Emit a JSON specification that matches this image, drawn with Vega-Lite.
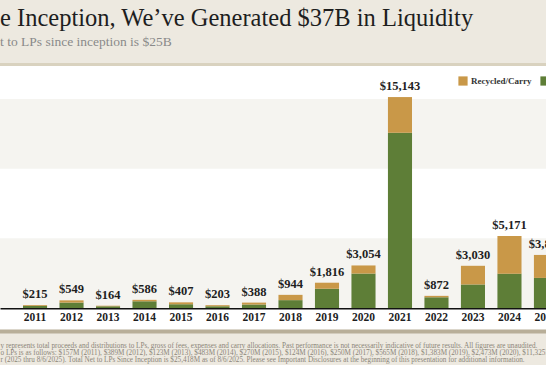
{
  "$schema": "https://vega.github.io/schema/vega-lite/v6.json",
  "width": 546,
  "height": 264,
  "autosize": {"type": "none"},
  "padding": {"top": 66, "left": 0, "right": 0, "bottom": 35},
  "background": "#ede9e0",
  "config": {"view": {"stroke": null, "fill": "white"}, "font": "Liberation Serif"},
  "title": {
    "text": "e Inception, We’ve Generated $37B in Liquidity",
    "subtitle": "t to LPs since inception is $25B",
    "anchor": "start",
    "frame": "group",
    "font": "Liberation Serif",
    "fontSize": 24.5,
    "fontWeight": "normal",
    "color": "#1e1e1e",
    "subtitleFont": "Liberation Serif",
    "subtitleFontSize": 13.5,
    "subtitleColor": "#8a8a8a",
    "subtitlePadding": 4,
    "offset": 13
  },
  "datasets": {
    "bands": [{"from": 0, "to": 5000}, {"from": 10000, "to": 15000}],
    "bars": [
      {"year": "2011", "type": "Net to LPs", "value": 157}, {"year": "2011", "type": "Recycled/Carry", "value": 58},
      {"year": "2012", "type": "Net to LPs", "value": 389}, {"year": "2012", "type": "Recycled/Carry", "value": 160},
      {"year": "2013", "type": "Net to LPs", "value": 123}, {"year": "2013", "type": "Recycled/Carry", "value": 41},
      {"year": "2014", "type": "Net to LPs", "value": 483}, {"year": "2014", "type": "Recycled/Carry", "value": 103},
      {"year": "2015", "type": "Net to LPs", "value": 270}, {"year": "2015", "type": "Recycled/Carry", "value": 137},
      {"year": "2016", "type": "Net to LPs", "value": 124}, {"year": "2016", "type": "Recycled/Carry", "value": 79},
      {"year": "2017", "type": "Net to LPs", "value": 250}, {"year": "2017", "type": "Recycled/Carry", "value": 138},
      {"year": "2018", "type": "Net to LPs", "value": 565}, {"year": "2018", "type": "Recycled/Carry", "value": 379},
      {"year": "2019", "type": "Net to LPs", "value": 1383}, {"year": "2019", "type": "Recycled/Carry", "value": 433},
      {"year": "2020", "type": "Net to LPs", "value": 2473}, {"year": "2020", "type": "Recycled/Carry", "value": 581},
      {"year": "2021", "type": "Net to LPs", "value": 12580}, {"year": "2021", "type": "Recycled/Carry", "value": 2563},
      {"year": "2022", "type": "Net to LPs", "value": 770}, {"year": "2022", "type": "Recycled/Carry", "value": 102},
      {"year": "2023", "type": "Net to LPs", "value": 1690}, {"year": "2023", "type": "Recycled/Carry", "value": 1340},
      {"year": "2024", "type": "Net to LPs", "value": 2465}, {"year": "2024", "type": "Recycled/Carry", "value": 2706},
      {"year": "2025", "type": "Net to LPs", "value": 2160}, {"year": "2025", "type": "Recycled/Carry", "value": 1650}
    ]
  },
  "layer": [
    {
      "data": {"name": "bands"},
      "mark": {"type": "rect", "color": "#f5f4f0"},
      "encoding": {
        "y": {"field": "from", "type": "quantitative", "scale": {"domain": [-1579, 17373], "nice": false, "zero": false}, "axis": null},
        "y2": {"field": "to"}
      }
    },
    {
      "data": {"name": "bars"},
      "mark": {"type": "bar"},
      "encoding": {
        "x": {
          "field": "year", "type": "ordinal",
          "scale": {"range": [0, 581], "paddingInner": 0.34, "paddingOuter": 0.63},
          "axis": {
            "title": [
              "y represents total proceeds and distributions to LPs, gross of fees, expenses and carry allocations. Past performance is not necessarily indicative of future results. All figures are unaudited.",
              "o LPs is as follows: $157M (2011), $389M (2012), $123M (2013), $483M (2014), $270M (2015), $124M (2016), $250M (2017), $565M (2018), $1,383M (2019), $2,473M (2020), $11,325M (2021), $770M (2022)",
              "r (2025 thru 8/6/2025). Total Net to LPs Since Inception is $25,418M as of 8/6/2025. Please see Important Disclosures at the beginning of this presentation for additional information."
            ],
            "titleX": 0, "titleY": 33, "titleAlign": "left", "titleAnchor": "start", "titleBaseline": "top",
            "titleFont": "Liberation Serif", "titleFontSize": 7.2, "titleFontWeight": "normal", "titleColor": "#8b8578", "titleLineHeight": 7.4,
            "labelAngle": 0, "labelFont": "Liberation Serif", "labelFontWeight": "bold", "labelFontSize": 11.5, "labelColor": "#1e1e1e", "labelPadding": 3,
            "ticks": false, "domainColor": "#111111", "domainWidth": 2, "offset": -22, "grid": false
          }
        },
        "y": {"field": "value", "type": "quantitative", "stack": "zero"},
        "color": {
          "field": "type", "type": "nominal",
          "scale": {"domain": ["Recycled/Carry", "Net to LPs"], "range": ["#c99848", "#5e7e37"]},
          "legend": {
            "orient": "none", "legendX": 458, "legendY": 10, "direction": "horizontal", "title": null,
            "symbolType": "square", "symbolSize": 85, "symbolStrokeWidth": 0, "symbolOpacity": 1,
            "labelFont": "Liberation Serif", "labelFontWeight": "bold", "labelFontSize": 9, "labelColor": "#333333",
            "columnPadding": 8, "labelOffset": 3
          }
        },
        "order": {"field": "type", "sort": "ascending"}
      }
    },
    {
      "data": {"name": "bars"},
      "transform": [{"aggregate": [{"op": "sum", "field": "value", "as": "total"}], "groupby": ["year"]}],
      "mark": {"type": "text", "align": "center", "baseline": "bottom", "dy": -4, "font": "Liberation Serif", "fontWeight": "bold", "fontSize": 12.5, "color": "#1e1e1e"},
      "encoding": {
        "x": {"field": "year", "type": "ordinal"},
        "y": {"field": "total", "type": "quantitative"},
        "text": {"field": "total", "type": "quantitative", "format": "$,.0f"}
      }
    },
    {
      "data": {"values": [{}]},
      "mark": {"type": "rule", "color": "#d9d2bf", "strokeWidth": 3},
      "encoding": {"y": {"datum": 17481}}
    },
    {
      "data": {"values": [{}]},
      "mark": {"type": "rule", "color": "#b8ae98", "strokeWidth": 4},
      "encoding": {"y": {"datum": -1687}}
    }
  ]
}
